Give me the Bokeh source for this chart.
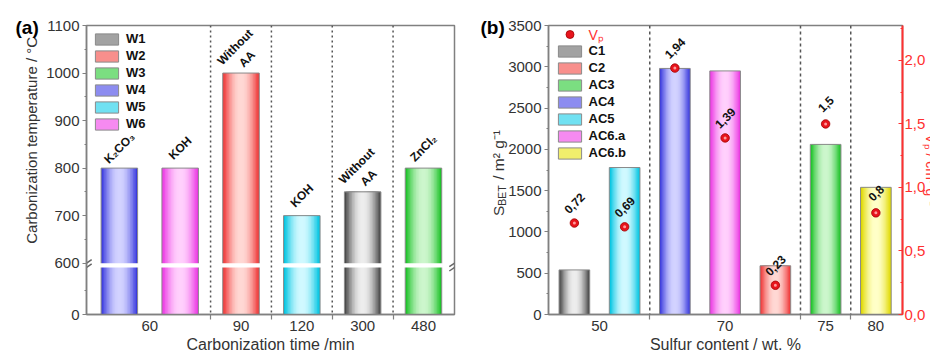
import math
from bokeh.plotting import figure
from bokeh.layouts import row
from bokeh.models import (Range1d, LinearAxis, FixedTicker, SingleIntervalTicker,
                          CustomJSTickFormatter, Span, Label, Legend, LegendItem)
from bokeh.core.properties import value
from bokeh.embed import file_html
from bokeh.resources import INLINE

# ---------------- data: panel (a) ----------------
a_samples = ["W4", "W6", "W2", "W5", "W1", "W3"]
a_time_min = [60, 60, 90, 120, 300, 480]
a_temperature = [800, 800, 1000, 700, 750, 800]
a_agent = ["K₂CO₃", "KOH", "Without\nAA", "KOH", "Without\nAA", "ZnCl₂"]
a_legend_order = ["W1", "W2", "W3", "W4", "W5", "W6"]
a_y_ticks = [0, 600, 700, 800, 900, 1000, 1100]
a_y_minor = [300, 650, 750, 850, 950, 1050]

# ---------------- data: panel (b) ----------------
b_samples = ["C1", "AC5", "AC4", "AC6.a", "C2", "AC3", "AC6.b"]
b_sulfur = [50, 50, 70, 70, 70, 75, 80]
b_sbet = [540, 1780, 2980, 2950, 590, 2060, 1540]
b_vp = [0.72, 0.69, 1.94, 1.39, 0.23, 1.5, 0.8]
b_legend_order = ["C1", "C2", "AC3", "AC4", "AC5", "AC6.a", "AC6.b"]

# ---------------- style ----------------
FONT = "Liberation Sans"
TICK_COLOR = "#333333"
FRAME_COLOR = "#808080"
RED = "#ff3030"
SHADES = {
    "gray": ("#4a4a4a", "#ededed"),
    "red": ("#f03838", "#ffd8d4"),
    "green": ("#1cc228", "#ccf6cc"),
    "blue": ("#3a3ade", "#d2d2ff"),
    "cyan": ("#00c4e2", "#d0f9ff"),
    "magenta": ("#ec38e4", "#ffd0fc"),
    "yellow": ("#e0da00", "#ffffc8"),
}
SAMPLE_SHADE = {"W1": "gray", "W2": "red", "W3": "green", "W4": "blue", "W5": "cyan", "W6": "magenta",
                "C1": "gray", "C2": "red", "AC3": "green", "AC4": "blue", "AC5": "cyan",
                "AC6.a": "magenta", "AC6.b": "yellow"}
N_LAYERS = 12

# broken axis for panel (a)
BREAK_AT = 600
LOWER_H = 99
GAP = 9


def ty(v):
    return v * LOWER_H / BREAK_AT if v < BREAK_AT else LOWER_H + GAP + (v - BREAK_AT)


def hex_rgb(h):
    return tuple(int(h[i:i + 2], 16) for i in (1, 3, 5))


def mix(c1, c2, t):
    a, b = hex_rgb(c1), hex_rgb(c2)
    return "#%02x%02x%02x" % tuple(round(a[k] + (b[k] - a[k]) * t) for k in range(3))


def group_ticks(vals):
    centers, labels, seps = [], [], []
    start = 0
    for i in range(1, len(vals) + 1):
        if i == len(vals) or vals[i] != vals[start]:
            centers.append((start + i - 1) / 2)
            labels.append(str(vals[start]))
            if i < len(vals):
                seps.append(i - 0.5)
            start = i
    return centers, labels, seps


def shaded_bars(p, xs, tops, names, width):
    mid = None
    for i in range(N_LAYERS):
        t = i / (N_LAYERS - 1)
        f = math.sin(t * math.pi / 2)
        cols = [mix(SHADES[SAMPLE_SHADE[n]][0], SHADES[SAMPLE_SHADE[n]][1], f) for n in names]
        r = p.vbar(x=xs, top=tops, bottom=0, width=width * (1 - i / N_LAYERS),
                   fill_color=cols, line_color=None)
        if i == N_LAYERS // 3:
            mid = r
    outline = p.vbar(x=xs, top=tops, bottom=0, width=width, fill_color=None,
                     line_color="#8a8a8a", line_width=1)
    return mid, outline


def label_formatter(centers, labels):
    return CustomJSTickFormatter(args=dict(pos=centers, names=labels), code="""
        const i = pos.findIndex(t => Math.abs(t - tick) < 1e-6);
        return i < 0 ? '' : names[i];""")


def style_axis(ax, color=FRAME_COLOR, label_color=TICK_COLOR):
    ax.axis_line_color = color
    ax.axis_line_width = 1.5
    ax.major_tick_line_color = color
    ax.minor_tick_line_color = color
    ax.major_tick_line_width = 1.2
    ax.minor_tick_line_width = 1.2
    ax.major_label_text_font = FONT
    ax.major_label_text_font_size = "15px"
    ax.major_label_text_color = label_color


def base_figure(width, x_range, y_range, left, right):
    p = figure(width=width, height=351, x_range=x_range, y_range=y_range,
               output_backend="svg", toolbar_location=None,
               min_border_left=left, min_border_right=right,
               min_border_top=25, min_border_bottom=37)
    p.grid.visible = False
    p.outline_line_color = FRAME_COLOR
    p.outline_line_width = 1.5
    p.background_fill_color = "white"
    p.border_fill_color = "white"
    return p


def add_text_label(p, side, **kw):
    opts = dict(text_font=FONT, text_color="#333333", text_font_size="15px")
    opts.update(kw)
    p.add_layout(Label(**opts), side)


# ================= panel (a) =================
A_X0, A_X1 = -0.54, 5.51
BAR_W_A = 0.6
a_x = list(range(len(a_samples)))
a_tops = [ty(v) for v in a_temperature]
pa = base_figure(460, Range1d(A_X0, A_X1), Range1d(0, ty(1100)), 86, 6)

mid_a, out_a = shaded_bars(pa, a_x, a_tops, a_samples, BAR_W_A)
# white gap of the axis break across the bars
pa.vbar(x=a_x, bottom=LOWER_H, top=LOWER_H + GAP, width=BAR_W_A + 0.04,
        fill_color="white", line_color=None)

# break marks at both frame sides (two short slanted strokes at the gap edges)
MARK_DX, MARK_DY = 0.085, 7.5
mx0, my0, mx1, my1 = [], [], [], []
for xe in (A_X0, A_X1):
    for yc in (LOWER_H, LOWER_H + GAP):
        mx0.append(xe - MARK_DX); my0.append(yc - MARK_DY)
        mx1.append(xe + MARK_DX); my1.append(yc + MARK_DY)
pa.segment(x0=mx0, y0=my0, x1=mx1, y1=my1, line_color="#666666", line_width=1.5)

a_centers, a_labels, a_seps = group_ticks(a_time_min)
for s in a_seps:
    pa.add_layout(Span(location=s, dimension="height", line_color="#555555",
                       line_width=1.5, line_dash="2 3"))

pa.text(x=a_x, y=a_tops, text=a_agent, angle=math.pi / 4, text_align="center",
        text_baseline="middle", y_offset=-20, text_font=value(FONT),
        text_font_style="bold", text_font_size="12px", text_color="#111111")

ax = pa.xaxis[0]
style_axis(ax)
ax.ticker = FixedTicker(ticks=a_centers, minor_ticks=a_seps)
ax.formatter = label_formatter(a_centers, a_labels)
ax.major_tick_out = 0
ax.major_tick_in = 0
ax.minor_tick_out = 5
ax.minor_tick_in = 0
ax.major_label_standoff = 1

ay = pa.yaxis[0]
style_axis(ay)
ay.ticker = FixedTicker(ticks=[ty(v) for v in a_y_ticks], minor_ticks=[ty(v) for v in a_y_minor])
ay.formatter = CustomJSTickFormatter(args=dict(brk=BREAK_AT, low=LOWER_H, gap=GAP), code="""
    return tick < low ? Math.round(tick * brk / low).toString() : Math.round(tick - low - gap + brk).toString();""")
ay.major_tick_out = 4
ay.major_tick_in = 0
ay.minor_tick_out = 2
ay.minor_tick_in = 0
ay.major_label_standoff = 3

add_text_label(pa, "above", x=A_X0, y=ty(1100), x_offset=-71, y_offset=-2, text="(a)",
               text_align="left", text_baseline="middle", text_font_style="bold",
               text_font_size="19px", text_color="#000000")
add_text_label(pa, "left", x=A_X0, y=(LOWER_H + GAP + ty(1100)) / 2, x_offset=-55, y_offset=4,
               text="Carbonization temperature / °C", angle=math.pi / 2,
               text_align="center", text_baseline="middle")
add_text_label(pa, "below", x=(A_X0 + A_X1) / 2, y=0, y_offset=-30, text="Carbonization time /min",
               text_align="center", text_baseline="alphabetic", text_font_size="16px")

leg_a = Legend(items=[LegendItem(label=n, renderers=[mid_a, out_a], index=a_samples.index(n))
                      for n in a_legend_order],
               location="top_left", margin=6, padding=0, spacing=2, glyph_width=29,
               glyph_height=14, label_height=14, label_standoff=5,
               label_text_font=FONT, label_text_font_style="bold", label_text_font_size="13px",
               label_text_color="#111111", border_line_color=None, background_fill_alpha=0)
pa.add_layout(leg_a)

# ================= panel (b) =================
B_X0, B_X1 = -0.515, 6.53
BAR_W_B = 0.61
b_x = list(range(len(b_samples)))
pb = base_figure(470, Range1d(B_X0, B_X1), Range1d(0, 3500), 86, 28)
pb.extra_y_ranges = {"vp": Range1d(0, 2.275)}

mid_b, out_b = shaded_bars(pb, b_x, b_sbet, b_samples, BAR_W_B)

b_centers, b_labels, b_seps = group_ticks(b_sulfur)
for s in b_seps:
    pb.add_layout(Span(location=s, dimension="height", line_color="#555555",
                       line_width=1.5, line_dash="3 3"))

dots = pb.scatter(x=b_x, y=b_vp, y_range_name="vp", size=8.5, fill_color="#e8141c",
                  line_color="#a00000", line_width=0.8)
pb.scatter(x=b_x, y=b_vp, y_range_name="vp", size=3, fill_color="#ff9a9a", line_color=None)
pb.text(x=b_x, y=b_vp, y_range_name="vp", text=[f"{v:g}".replace(".", ",") for v in b_vp],
        angle=math.pi / 4, text_align="center", text_baseline="middle", y_offset=-20,
        text_font=value(FONT), text_font_style="bold", text_font_size="12px",
        text_color="#111111")

bx = pb.xaxis[0]
style_axis(bx)
bx.ticker = FixedTicker(ticks=b_centers, minor_ticks=b_seps)
bx.formatter = label_formatter(b_centers, b_labels)
bx.major_tick_out = 0
bx.major_tick_in = 0
bx.minor_tick_out = 5
bx.minor_tick_in = 0
bx.major_label_standoff = 1

by = pb.yaxis[0]
style_axis(by)
by.ticker = SingleIntervalTicker(interval=500, num_minor_ticks=2)
by.major_tick_out = 4
by.major_tick_in = 0
by.minor_tick_out = 2
by.minor_tick_in = 0
by.major_label_standoff = 3

ry = LinearAxis(y_range_name="vp")
style_axis(ry, color=RED, label_color=RED)
ry.ticker = SingleIntervalTicker(interval=0.5, num_minor_ticks=2)
ry.formatter = CustomJSTickFormatter(code="return tick.toFixed(1).replace('.', ',');")
ry.major_tick_out = 0
ry.major_tick_in = 4
ry.minor_tick_out = 0
ry.minor_tick_in = 2
ry.major_label_standoff = 2
ry.axis_line_width = 2
pb.add_layout(ry, "right")

add_text_label(pb, "above", x=B_X0, y=3500, x_offset=-68, y_offset=-2, text="(b)",
               text_align="left", text_baseline="middle", text_font_style="bold",
               text_font_size="19px", text_color="#000000")
add_text_label(pb, "below", x=(B_X0 + B_X1) / 2, y=0, y_offset=-30, text="Sulfur content / wt. %",
               text_align="center", text_baseline="alphabetic", text_font_size="16px")
# right-axis title (reads top to bottom); it lies mostly beyond the window edge, as in the original
add_text_label(pb, "left", x=B_X1, y=1750, x_offset=28, text="Vₚ / cm³ g⁻¹", angle=-math.pi / 2,
               text_align="center", text_baseline="alphabetic", text_color=RED,
               text_font_size="14px")

# left title: "S" + subscript "BET" + " / m² g⁻¹" along the rotated baseline
MAIN_FS, SUB_FS = 15.5, 10.5
S_W = 0.667 * MAIN_FS
BET_W = (0.667 + 0.667 + 0.611) * SUB_FS
n_pad = round(BET_W / (0.278 * MAIN_FS))
title_main = "S" + "\u00a0" * n_pad + " / m² g⁻¹"
add_text_label(pb, "left", x=B_X0, y=1750, x_offset=-50, y_offset=-46, text=title_main,
               angle=math.pi / 2, text_align="left", text_baseline="alphabetic",
               text_font_size=f"{MAIN_FS}px")
add_text_label(pb, "left", x=B_X0, y=1750, x_offset=-46.5, y_offset=-46 + S_W, text="BET",
               angle=math.pi / 2, text_align="left", text_baseline="alphabetic",
               text_font_size=f"{SUB_FS}px")

leg_vp = Legend(items=[LegendItem(label="Vₚ", renderers=[dots], index=0)],
                location=(6.5, 270), margin=0, padding=0, spacing=0, glyph_width=29,
                glyph_height=20, label_height=14, label_standoff=5,
                label_text_font=FONT, label_text_font_size="14px", label_text_color=RED,
                border_line_color=None, background_fill_alpha=0)
leg_b = Legend(items=[LegendItem(label=n, renderers=[mid_b, out_b], index=b_samples.index(n))
                      for n in b_legend_order],
               location=(6.5, 154), margin=0, padding=0, spacing=2, glyph_width=29,
               glyph_height=14, label_height=14, label_standoff=5,
               label_text_font=FONT, label_text_font_style="bold", label_text_font_size="13px",
               label_text_color="#111111", border_line_color=None, background_fill_alpha=0)
pb.add_layout(leg_vp)
pb.add_layout(leg_b)

p = row(pa, pb)
open("out.html", "w").write(file_html(p, INLINE))
